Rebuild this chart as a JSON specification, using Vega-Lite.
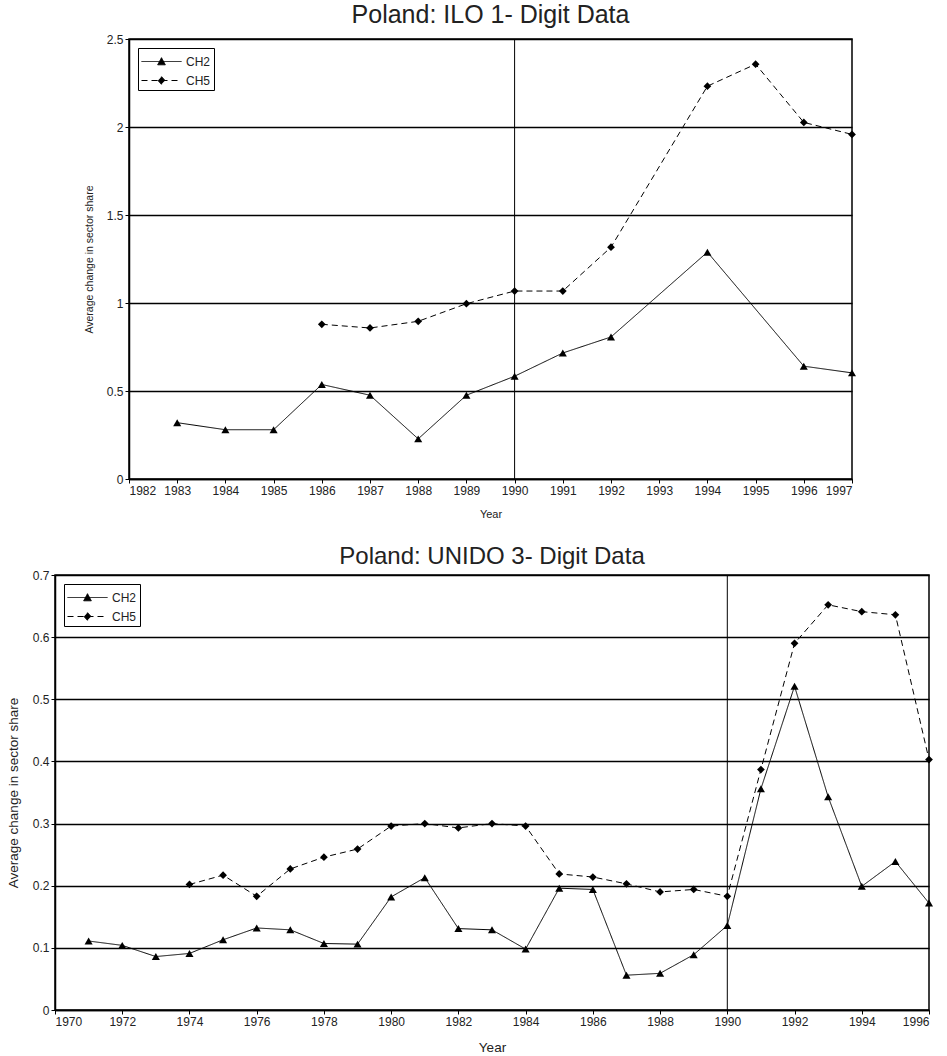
{
  "$schema": "https://vega.github.io/schema/vega-lite/v6.json",
  "background": "white",
  "padding": {"left": 5, "top": 2, "right": 2, "bottom": 0},
  "datasets": {
    "ilo": [
      {"year": 1983, "series": "CH2", "value": 0.32},
      {"year": 1984, "series": "CH2", "value": 0.28},
      {"year": 1985, "series": "CH2", "value": 0.28},
      {"year": 1986, "series": "CH2", "value": 0.537},
      {"year": 1987, "series": "CH2", "value": 0.476},
      {"year": 1988, "series": "CH2", "value": 0.228},
      {"year": 1989, "series": "CH2", "value": 0.476},
      {"year": 1990, "series": "CH2", "value": 0.584},
      {"year": 1991, "series": "CH2", "value": 0.716},
      {"year": 1992, "series": "CH2", "value": 0.807},
      {"year": 1994, "series": "CH2", "value": 1.289},
      {"year": 1996, "series": "CH2", "value": 0.641},
      {"year": 1997, "series": "CH2", "value": 0.603},
      {"year": 1986, "series": "CH5", "value": 0.879},
      {"year": 1987, "series": "CH5", "value": 0.858},
      {"year": 1988, "series": "CH5", "value": 0.896},
      {"year": 1989, "series": "CH5", "value": 0.996},
      {"year": 1990, "series": "CH5", "value": 1.068},
      {"year": 1991, "series": "CH5", "value": 1.068},
      {"year": 1992, "series": "CH5", "value": 1.317},
      {"year": 1994, "series": "CH5", "value": 2.232},
      {"year": 1995, "series": "CH5", "value": 2.357},
      {"year": 1996, "series": "CH5", "value": 2.026},
      {"year": 1997, "series": "CH5", "value": 1.958}
    ],
    "unido": [
      {"year": 1971, "series": "CH2", "value": 0.111},
      {"year": 1972, "series": "CH2", "value": 0.104},
      {"year": 1973, "series": "CH2", "value": 0.086},
      {"year": 1974, "series": "CH2", "value": 0.091},
      {"year": 1975, "series": "CH2", "value": 0.113},
      {"year": 1976, "series": "CH2", "value": 0.132},
      {"year": 1977, "series": "CH2", "value": 0.129},
      {"year": 1978, "series": "CH2", "value": 0.107},
      {"year": 1979, "series": "CH2", "value": 0.106},
      {"year": 1980, "series": "CH2", "value": 0.182},
      {"year": 1981, "series": "CH2", "value": 0.213},
      {"year": 1982, "series": "CH2", "value": 0.131},
      {"year": 1983, "series": "CH2", "value": 0.129},
      {"year": 1984, "series": "CH2", "value": 0.098},
      {"year": 1985, "series": "CH2", "value": 0.196},
      {"year": 1986, "series": "CH2", "value": 0.194},
      {"year": 1987, "series": "CH2", "value": 0.056},
      {"year": 1988, "series": "CH2", "value": 0.059},
      {"year": 1989, "series": "CH2", "value": 0.089},
      {"year": 1990, "series": "CH2", "value": 0.136},
      {"year": 1991, "series": "CH2", "value": 0.356},
      {"year": 1992, "series": "CH2", "value": 0.521},
      {"year": 1993, "series": "CH2", "value": 0.343},
      {"year": 1994, "series": "CH2", "value": 0.199},
      {"year": 1995, "series": "CH2", "value": 0.239},
      {"year": 1996, "series": "CH2", "value": 0.172},
      {"year": 1974, "series": "CH5", "value": 0.202},
      {"year": 1975, "series": "CH5", "value": 0.217},
      {"year": 1976, "series": "CH5", "value": 0.183},
      {"year": 1977, "series": "CH5", "value": 0.227},
      {"year": 1978, "series": "CH5", "value": 0.246},
      {"year": 1979, "series": "CH5", "value": 0.259},
      {"year": 1980, "series": "CH5", "value": 0.296},
      {"year": 1981, "series": "CH5", "value": 0.300},
      {"year": 1982, "series": "CH5", "value": 0.293},
      {"year": 1983, "series": "CH5", "value": 0.300},
      {"year": 1984, "series": "CH5", "value": 0.296},
      {"year": 1985, "series": "CH5", "value": 0.219},
      {"year": 1986, "series": "CH5", "value": 0.214},
      {"year": 1987, "series": "CH5", "value": 0.203},
      {"year": 1988, "series": "CH5", "value": 0.190},
      {"year": 1989, "series": "CH5", "value": 0.194},
      {"year": 1990, "series": "CH5", "value": 0.183},
      {"year": 1991, "series": "CH5", "value": 0.387},
      {"year": 1992, "series": "CH5", "value": 0.590},
      {"year": 1993, "series": "CH5", "value": 0.652},
      {"year": 1994, "series": "CH5", "value": 0.641},
      {"year": 1995, "series": "CH5", "value": 0.636},
      {"year": 1996, "series": "CH5", "value": 0.403}
    ],
    "divide": [{"year": 1990}],
    "blank": [{}]
  },
  "spacing": 24,
  "resolve": {
    "scale": {"x": "independent", "y": "independent", "strokeDash": "independent"},
    "legend": {"strokeDash": "independent"}
  },
  "vconcat": [
    {
      "spacing": 0,
      "resolve": {
        "scale": {"x": "independent", "y": "independent", "strokeDash": "independent"},
        "legend": {"strokeDash": "independent"}
      },
      "hconcat": [
        {
          "width": 28,
          "height": 440,
          "data": {"name": "blank"},
          "mark": {"type": "text", "text": ""},
          "encoding": {},
          "view": {"stroke": null}
        },
        {
          "title": {"text": "Poland: ILO 1- Digit Data", "fontSize": 25, "offset": 5},
          "width": 723,
          "height": 440,
          "layer": [
            {
              "data": {"name": "divide"},
              "mark": {"type": "rule", "color": "black", "strokeWidth": 1},
              "encoding": {
                "x": {"field": "year", "type": "quantitative", "scale": {"domain": [1982, 1997], "nice": false, "zero": false}}
              }
            },
            {
              "data": {"name": "ilo"},
              "mark": {"type": "line", "color": "black", "strokeWidth": 1},
              "encoding": {
                "x": {"field": "year", "type": "quantitative", "scale": {"domain": [1982, 1997], "nice": false, "zero": false},
                  "axis": {"values": [1982,1983,1984,1985,1986,1987,1988,1989,1990,1991,1992,1993,1994,1995,1996,1997], "format": "d", "title": "Year", "grid": false, "titleFontSize": 11, "titlePadding": 12}},
                "y": {"field": "value", "type": "quantitative", "scale": {"domain": [0, 2.5], "nice": false},
                  "axis": {"values": [0, 0.5, 1, 1.5, 2, 2.5], "format": ".1~f", "title": "Average change in sector share", "grid": true, "titleFontSize": 10.5}},
                "strokeDash": {"field": "series", "type": "nominal",
                  "scale": {"domain": ["CH2", "CH5"], "range": [[1, 0], [6, 4]]},
                  "legend": {
                    "title": null,
                    "orient": "top-left",
                    "offset": 9,
                    "encode": {"symbols": {"update": {
                      "shape": {"signal": "datum.value == 'CH2' ? 'M-1,0H3M0.62,0.33L1,-0.38L1.38,0.33Z' : 'M-1,0H3M1,-0.38L1.35,0L1,0.38L0.65,0Z'"},
                      "fill": {"value": "black"},
                      "stroke": {"value": "black"},
                      "strokeWidth": {"value": 1},
                      "opacity": {"value": 1}
                    }}}
                  }
                }
              }
            },
            {
              "data": {"name": "ilo"},
              "transform": [{"filter": "datum.series == 'CH2'"}],
              "mark": {"type": "point", "shape": "triangle-up", "filled": true, "color": "black", "opacity": 1, "size": 65},
              "encoding": {
                "x": {"field": "year", "type": "quantitative"},
                "y": {"field": "value", "type": "quantitative"}
              }
            },
            {
              "data": {"name": "ilo"},
              "transform": [{"filter": "datum.series == 'CH5'"}],
              "mark": {"type": "point", "shape": "diamond", "filled": true, "color": "black", "opacity": 1, "size": 60},
              "encoding": {
                "x": {"field": "year", "type": "quantitative"},
                "y": {"field": "value", "type": "quantitative"}
              }
            }
          ]
        }
      ]
    },
    {
      "title": {"text": "Poland: UNIDO 3- Digit Data", "fontSize": 24, "offset": 0},
      "width": 874,
      "height": 435,
      "layer": [
        {
          "data": {"name": "divide"},
          "mark": {"type": "rule", "color": "black", "strokeWidth": 1},
          "encoding": {
            "x": {"field": "year", "type": "quantitative", "scale": {"domain": [1970, 1996], "nice": false, "zero": false}}
          }
        },
        {
          "data": {"name": "unido"},
          "mark": {"type": "line", "color": "black", "strokeWidth": 1},
          "encoding": {
            "x": {"field": "year", "type": "quantitative", "scale": {"domain": [1970, 1996], "nice": false, "zero": false},
              "axis": {"values": [1970,1972,1974,1976,1978,1980,1982,1984,1986,1988,1990,1992,1994,1996], "format": "d", "title": "Year", "grid": false, "titleFontSize": 13.5, "titlePadding": 13}},
            "y": {"field": "value", "type": "quantitative", "scale": {"domain": [0, 0.7], "nice": false},
              "axis": {"values": [0, 0.1, 0.2, 0.3, 0.4, 0.5, 0.6, 0.7], "format": ".1~f", "title": "Average change in sector share", "grid": true, "titleFontSize": 13.5}},
            "strokeDash": {"field": "series", "type": "nominal",
              "scale": {"domain": ["CH2", "CH5"], "range": [[1, 0], [6, 4]]},
              "legend": {
                "title": null,
                "orient": "top-left",
                "offset": 9,
                "encode": {"symbols": {"update": {
                  "shape": {"signal": "datum.value == 'CH2' ? 'M-1,0H3M0.62,0.33L1,-0.38L1.38,0.33Z' : 'M-1,0H3M1,-0.38L1.35,0L1,0.38L0.65,0Z'"},
                  "fill": {"value": "black"},
                  "stroke": {"value": "black"},
                  "strokeWidth": {"value": 1},
                  "opacity": {"value": 1}
                }}}
              }
            }
          }
        },
        {
          "data": {"name": "unido"},
          "transform": [{"filter": "datum.series == 'CH2'"}],
          "mark": {"type": "point", "shape": "triangle-up", "filled": true, "color": "black", "opacity": 1, "size": 65},
          "encoding": {
            "x": {"field": "year", "type": "quantitative"},
            "y": {"field": "value", "type": "quantitative"}
          }
        },
        {
          "data": {"name": "unido"},
          "transform": [{"filter": "datum.series == 'CH5'"}],
          "mark": {"type": "point", "shape": "diamond", "filled": true, "color": "black", "opacity": 1, "size": 60},
          "encoding": {
            "x": {"field": "year", "type": "quantitative"},
            "y": {"field": "value", "type": "quantitative"}
          }
        }
      ]
    }
  ],
  "config": {
    "font": "Liberation Sans",
    "view": {"stroke": "black", "strokeWidth": 1.5},
    "title": {"fontSize": 24, "fontWeight": "normal", "color": "#222", "anchor": "middle", "offset": 8, "font": "Liberation Sans"},
    "axis": {
      "labelFont": "Liberation Sans",
      "labelFontSize": 12,
      "labelColor": "#222",
      "titleFont": "Liberation Sans",
      "titleFontSize": 12,
      "titleFontWeight": "normal",
      "titleColor": "#222",
      "domainColor": "black",
      "domainWidth": 1.5,
      "tickColor": "black",
      "tickSize": 4,
      "tickWidth": 1,
      "gridColor": "black",
      "gridWidth": 1.5,
      "gridOpacity": 1,
      "labelPadding": 2,
      "titlePadding": 6
    },
    "axisY": {"titlePadding": 12},
    "legend": {
      "strokeColor": "black",
      "fillColor": "white",
      "padding": 3,
      "symbolSize": 400,
      "labelOffset": 24,
      "labelFontSize": 12,
      "labelFont": "Liberation Sans",
      "labelColor": "#222",
      "rowPadding": 2,
      "symbolStrokeColor": "black",
      "symbolFillColor": "black",
      "symbolStrokeWidth": 1
    }
  }
}
